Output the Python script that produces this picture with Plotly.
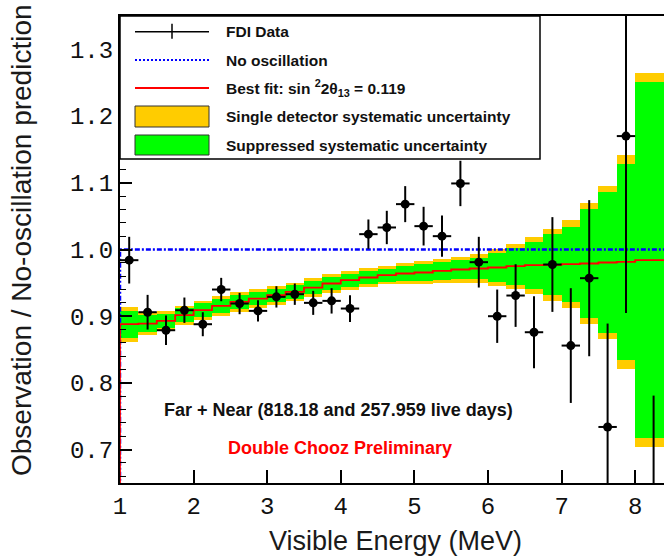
import plotly.graph_objects as go

# ---------------- data ----------------
bin_edges = [1.0, 1.25, 1.5, 1.75, 2.0, 2.25, 2.5, 2.75, 3.0, 3.25, 3.5, 3.75,
             4.0, 4.25, 4.5, 4.75, 5.0, 5.25, 5.5, 5.75, 6.0, 6.25, 6.5, 6.75,
             7.0, 7.25, 7.5, 7.75, 8.0, 8.5]

best_fit = [0.888, 0.889, 0.893, 0.9015, 0.909, 0.9155, 0.9215, 0.9265, 0.9315,
            0.9365, 0.943, 0.949, 0.954, 0.958, 0.9615, 0.964, 0.9655, 0.968,
            0.970, 0.9715, 0.973, 0.975, 0.9765, 0.977, 0.978, 0.979, 0.9805,
            0.9815, 0.984]

green_half = [0.020, 0.0125, 0.011, 0.0105, 0.0105, 0.0105, 0.0105, 0.010, 0.010,
              0.010, 0.010, 0.010, 0.010, 0.010, 0.0095, 0.011, 0.0125, 0.013,
              0.0145, 0.016, 0.022, 0.0275, 0.035, 0.0455, 0.056, 0.081, 0.105,
              0.147, 0.267]

yellow_half = [0.026, 0.017, 0.015, 0.0145, 0.0145, 0.0145, 0.0145, 0.014, 0.014,
               0.014, 0.014, 0.014, 0.014, 0.014, 0.0137, 0.0157, 0.0175, 0.018,
               0.0195, 0.0215, 0.028, 0.034, 0.0425, 0.054, 0.0655, 0.090, 0.115,
               0.160, 0.280]

data_y = [0.984, 0.906, 0.879, 0.909, 0.888, 0.940, 0.919, 0.908, 0.929, 0.933,
          0.920, 0.923, 0.9115, 1.023, 1.033, 1.068, 1.035, 1.020, 1.099, 0.981,
          0.900, 0.931, 0.876, 0.9775, 0.856, 0.957, 0.734, 1.170, 0.600]

data_err = [0.035, 0.026, 0.022, 0.019, 0.018, 0.0175, 0.016, 0.016, 0.016, 0.016,
            0.018, 0.019, 0.020, 0.022, 0.025, 0.027, 0.029, 0.031, 0.034, 0.038,
            0.040, 0.047, 0.054, 0.071, 0.086, 0.117, 0.155, 0.265, 0.181]

no_osc_level = 1.0

x_tick_vals = [1, 2, 3, 4, 5, 6, 7, 8]
x_tick_text = ["1", "2", "3", "4", "5", "6", "7", "8"]
y_tick_vals = [0.7, 0.8, 0.9, 1.0, 1.1, 1.2, 1.3]
y_tick_text = ["0.7", "0.8", "0.9", "1.0", "1.1", "1.2", "1.3"]

legend_labels = ["FDI Data", "No oscillation",
                 "Best fit: sin <sup>2</sup>2θ<sub>13</sub> = 0.119",
                 "Single detector systematic uncertainty",
                 "Suppressed systematic uncertainty"]

# ---------------- derived ----------------
centers = [(a + b) / 2 for a, b in zip(bin_edges[:-1], bin_edges[1:])]
widths = [b - a for a, b in zip(bin_edges[:-1], bin_edges[1:])]
half_w = [w / 2 for w in widths]

W, H = 664, 559
ML, MR, MT, MB = 120, 0, 16, 76
PW, PH = W - ML - MR, H - MT - MB


def px(p):
    return (p - ML) / PW


def py(p):
    return (H - MB - p) / PH


fig = go.Figure()

fig.add_trace(go.Bar(
    x=centers, width=widths,
    base=[b - h for b, h in zip(best_fit, yellow_half)],
    y=[2 * h for h in yellow_half],
    marker=dict(color="#ffcc00", line=dict(width=0)),
    hoverinfo="skip"))

fig.add_trace(go.Bar(
    x=centers, width=widths,
    base=[b - h for b, h in zip(best_fit, green_half)],
    y=[2 * h for h in green_half],
    marker=dict(color="#00ff00", line=dict(width=0)),
    hoverinfo="skip"))

# no-oscillation line
fig.add_trace(go.Scatter(
    x=[bin_edges[0], bin_edges[0], bin_edges[-1]],
    y=[0, no_osc_level, no_osc_level],
    mode="lines",
    line=dict(color="#0000ff", width=2.5, dash="5px,2px,2px,2px")))

# best fit step line
fig.add_trace(go.Scatter(
    x=[bin_edges[0]] + bin_edges,
    y=[0] + best_fit + [best_fit[-1]],
    mode="lines", line_shape="hv",
    line=dict(color="#ff0000", width=1.8)))

# data
fig.add_trace(go.Scatter(
    x=centers, y=data_y, mode="markers",
    marker=dict(color="black", size=9),
    error_y=dict(type="data", array=data_err, width=0, thickness=2, color="black"),
    error_x=dict(type="data", array=half_w, width=0, thickness=2, color="black")))

tickfont = dict(family="Liberation Mono", size=24, color="#111111")

fig.update_layout(
    width=W, height=H,
    margin=dict(l=ML, r=MR, t=MT, b=MB),
    paper_bgcolor="white", plot_bgcolor="white",
    showlegend=False, barmode="overlay", bargap=0,
    xaxis=dict(range=[1.0, 1.0 + PW / 73.6], tickvals=x_tick_vals, ticktext=x_tick_text,
               ticks="inside", ticklen=13, tickwidth=1.5, tickcolor="black",
               showline=True, linecolor="black", linewidth=2, mirror=True,
               showgrid=False, zeroline=False, tickfont=tickfont),
    yaxis=dict(range=[0.65, 1.35], tickvals=y_tick_vals, ticktext=y_tick_text,
               ticks="inside", ticklen=12, tickwidth=1.5, tickcolor="black",
               minor=dict(ticks="inside", dtick=0.02, tick0=0.7, ticklen=6,
                          tickwidth=1.2, tickcolor="black"),
               showline=True, linecolor="black", linewidth=2, mirror=False,
               showgrid=False, zeroline=False, tickfont=tickfont),
)

shapes = []
annotations = []

# legend box
shapes.append(dict(type="rect", xref="paper", yref="paper",
                   x0=px(120), x1=px(540), y0=py(159), y1=py(16),
                   line=dict(color="black", width=1.5), fillcolor="white", layer="above"))
row_y = [31.7, 60, 88, 116.5, 145]
sx0, sx1 = 135, 209
shapes.append(dict(type="line", xref="paper", yref="paper",
                   x0=px(sx0), x1=px(sx1), y0=py(row_y[0]), y1=py(row_y[0]),
                   line=dict(color="black", width=1.5), layer="above"))
shapes.append(dict(type="line", xref="paper", yref="paper",
                   x0=px(172), x1=px(172), y0=py(row_y[0] - 8), y1=py(row_y[0] + 7),
                   line=dict(color="black", width=1.5), layer="above"))
shapes.append(dict(type="line", xref="paper", yref="paper",
                   x0=px(sx0), x1=px(sx1), y0=py(row_y[1]), y1=py(row_y[1]),
                   line=dict(color="#0000ff", width=2, dash="2px,2px"), layer="above"))
shapes.append(dict(type="line", xref="paper", yref="paper",
                   x0=px(sx0), x1=px(sx1), y0=py(row_y[2]), y1=py(row_y[2]),
                   line=dict(color="#ff0000", width=2), layer="above"))
shapes.append(dict(type="rect", xref="paper", yref="paper",
                   x0=px(sx0), x1=px(sx1), y0=py(127), y1=py(106),
                   line=dict(color="#333333", width=1), fillcolor="#ffcc00", layer="above"))
shapes.append(dict(type="rect", xref="paper", yref="paper",
                   x0=px(sx0), x1=px(sx1), y0=py(155), y1=py(135),
                   line=dict(color="#333333", width=1), fillcolor="#00ff00", layer="above"))

for lbl, ry in zip(legend_labels, row_y):
    annotations.append(dict(xref="paper", yref="paper", x=px(224), y=py(ry),
                            text="<b>" + lbl + "</b>", showarrow=False,
                            xanchor="left", yanchor="middle",
                            font=dict(family="Liberation Sans", size=15.5, color="#111111")))

annotations.append(dict(xref="paper", yref="paper", x=px(162), y=py(410),
                        text="<b>Far + Near (818.18 and 257.959 live days)</b>",
                        showarrow=False, xanchor="left", yanchor="middle",
                        font=dict(family="Liberation Sans", size=18, color="#111111")))
annotations.append(dict(xref="paper", yref="paper", x=px(226), y=py(448),
                        text="<b>Double Chooz Preliminary</b>",
                        showarrow=False, xanchor="left", yanchor="middle",
                        font=dict(family="Liberation Sans", size=18, color="#ff0000")))

# axis titles
annotations.append(dict(xref="paper", yref="paper", x=px(395), y=py(541),
                        text="Visible Energy (MeV)", showarrow=False,
                        xanchor="center", yanchor="middle",
                        font=dict(family="Liberation Sans", size=27, color="#1a1a1a")))
annotations.append(dict(xref="paper", yref="paper", x=px(22), y=py(240),
                        text="Observation / No-oscillation prediction", showarrow=False,
                        textangle=-90, xanchor="center", yanchor="middle",
                        font=dict(family="Liberation Sans", size=28, color="#1a1a1a")))

fig.update_layout(shapes=shapes, annotations=annotations)

fig.write_html("out.html")
